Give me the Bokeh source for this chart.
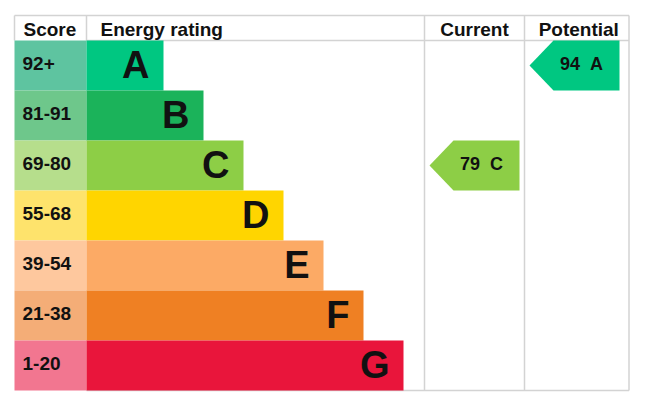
import numpy as np
from bokeh.plotting import figure
from bokeh.models import Range1d, ColumnDataSource
from bokeh.core.properties import value
from bokeh.embed import file_html
from bokeh.resources import INLINE

# ===== DATA ==========================================
ratings = ["A", "B", "C", "D", "E", "F", "G"]
score_ranges = ["92+", "81-91", "69-80", "55-68", "39-54", "21-38", "1-20"]
band_low = [92, 81, 69, 55, 39, 21, 1]
bar_colors = ["#00c781", "#1bb35a", "#8dce46", "#ffd500", "#fcaa65", "#ef8023", "#e9153b"]
score_colors = ["#5ec4a0", "#6ec78b", "#b6de8c", "#fee36c", "#fec89e", "#f4ad77", "#f27690"]
headers = ["Score", "Energy rating", "Current", "Potential"]
current_score = 79
potential_score = 94

# ===== LAYOUT (pixels across, rows down) =============
FONT = value("Liberation Sans")
GRID = "#d3d3d3"
x_left, x_score, x_cur, x_pot, x_right = 14, 86, 424, 524, 628.5
bar_first, bar_step = 163, 40
arrow_w, arrow_tip = 90, 24


def band_of(score):
    for i, low in enumerate(band_low):
        if score >= low:
            return i
    return len(band_low) - 1


n = len(ratings)
rows = np.arange(n)
bar_right = [bar_first + bar_step * i for i in range(n)]

p = figure(width=641, height=401, output_backend="svg", toolbar_location=None,
           x_axis_location=None, y_axis_location=None,
           x_range=Range1d(0, 641), y_range=Range1d(6.72, -1.3),
           min_border=0, outline_line_color=None)
p.grid.visible = False
p.background_fill_color = "white"

# grid / borders
p.segment(x0=[x_left, x_left, x_score, x_cur, x_pot, x_right, x_score, x_score],
          y0=[-1.0, -1.0, -1.0, -1.0, -1.0, -1.0, -0.5, n - 0.5],
          x1=[x_right, x_left, x_score, x_cur, x_pot, x_right, x_right, x_right],
          y1=[-1.0, -0.5, -0.5, n - 0.5, n - 0.5, n - 0.5, -0.5, n - 0.5],
          line_color=GRID, line_width=1.5)

# score cells and rating bars
src = ColumnDataSource(dict(y=rows, right=bar_right, color=bar_colors,
                            scolor=score_colors, letter=ratings,
                            score=score_ranges,
                            lx=[r - 14 for r in bar_right],
                            ly=rows - 0.01, sy=rows - 0.05))
p.hbar(y="y", left=x_left, right=x_score, height=1.0, fill_color="scolor",
       line_color=None, source=src)
p.hbar(y="y", left=x_score, right="right", height=1.0, fill_color="color",
       line_color=None, source=src)
p.text(x=x_left + 8, y="sy", text="score", source=src, text_font=FONT,
       text_font_style="bold", text_font_size="19px", text_color="#111111",
       text_baseline="middle")
p.text(x="lx", y="ly", text="letter", source=src, text_font=FONT,
       text_font_style="bold", text_font_size="38px", text_color="#111111",
       text_align="right", text_baseline="middle")

# headers
p.text(x=[x_left + 9, x_score + 14, (x_cur + x_pot) / 2, (x_pot + x_right) / 2 + 2],
       y=[-0.72] * 4, text=headers, text_font=FONT, text_font_style="bold",
       text_font_size="19px", text_color="#111111",
       text_align=["left", "left", "center", "center"], text_baseline="middle")

# current / potential arrows
xs, ys, cols, tx, ty, tt = [], [], [], [], [], []
for col_l, sc in [(x_cur, current_score), (x_pot, potential_score)]:
    b = band_of(sc)
    a0 = col_l + 5
    xs.append([a0, a0 + arrow_tip, a0 + arrow_w, a0 + arrow_w, a0 + arrow_tip])
    ys.append([b, b - 0.5, b - 0.5, b + 0.5, b + 0.5])
    cols.append(bar_colors[b])
    tx.append(col_l + 57)
    ty.append(b - 0.03)
    tt.append(f"{sc}\u00a0\u00a0{ratings[b]}")
p.patches(xs, ys, fill_color=cols, line_color=None)
p.text(x=tx, y=ty, text=tt, text_font=FONT, text_font_style="bold",
       text_font_size="18px", text_color="#111111", text_align="center",
       text_baseline="middle")

open("out.html", "w").write(file_html(p, INLINE))
